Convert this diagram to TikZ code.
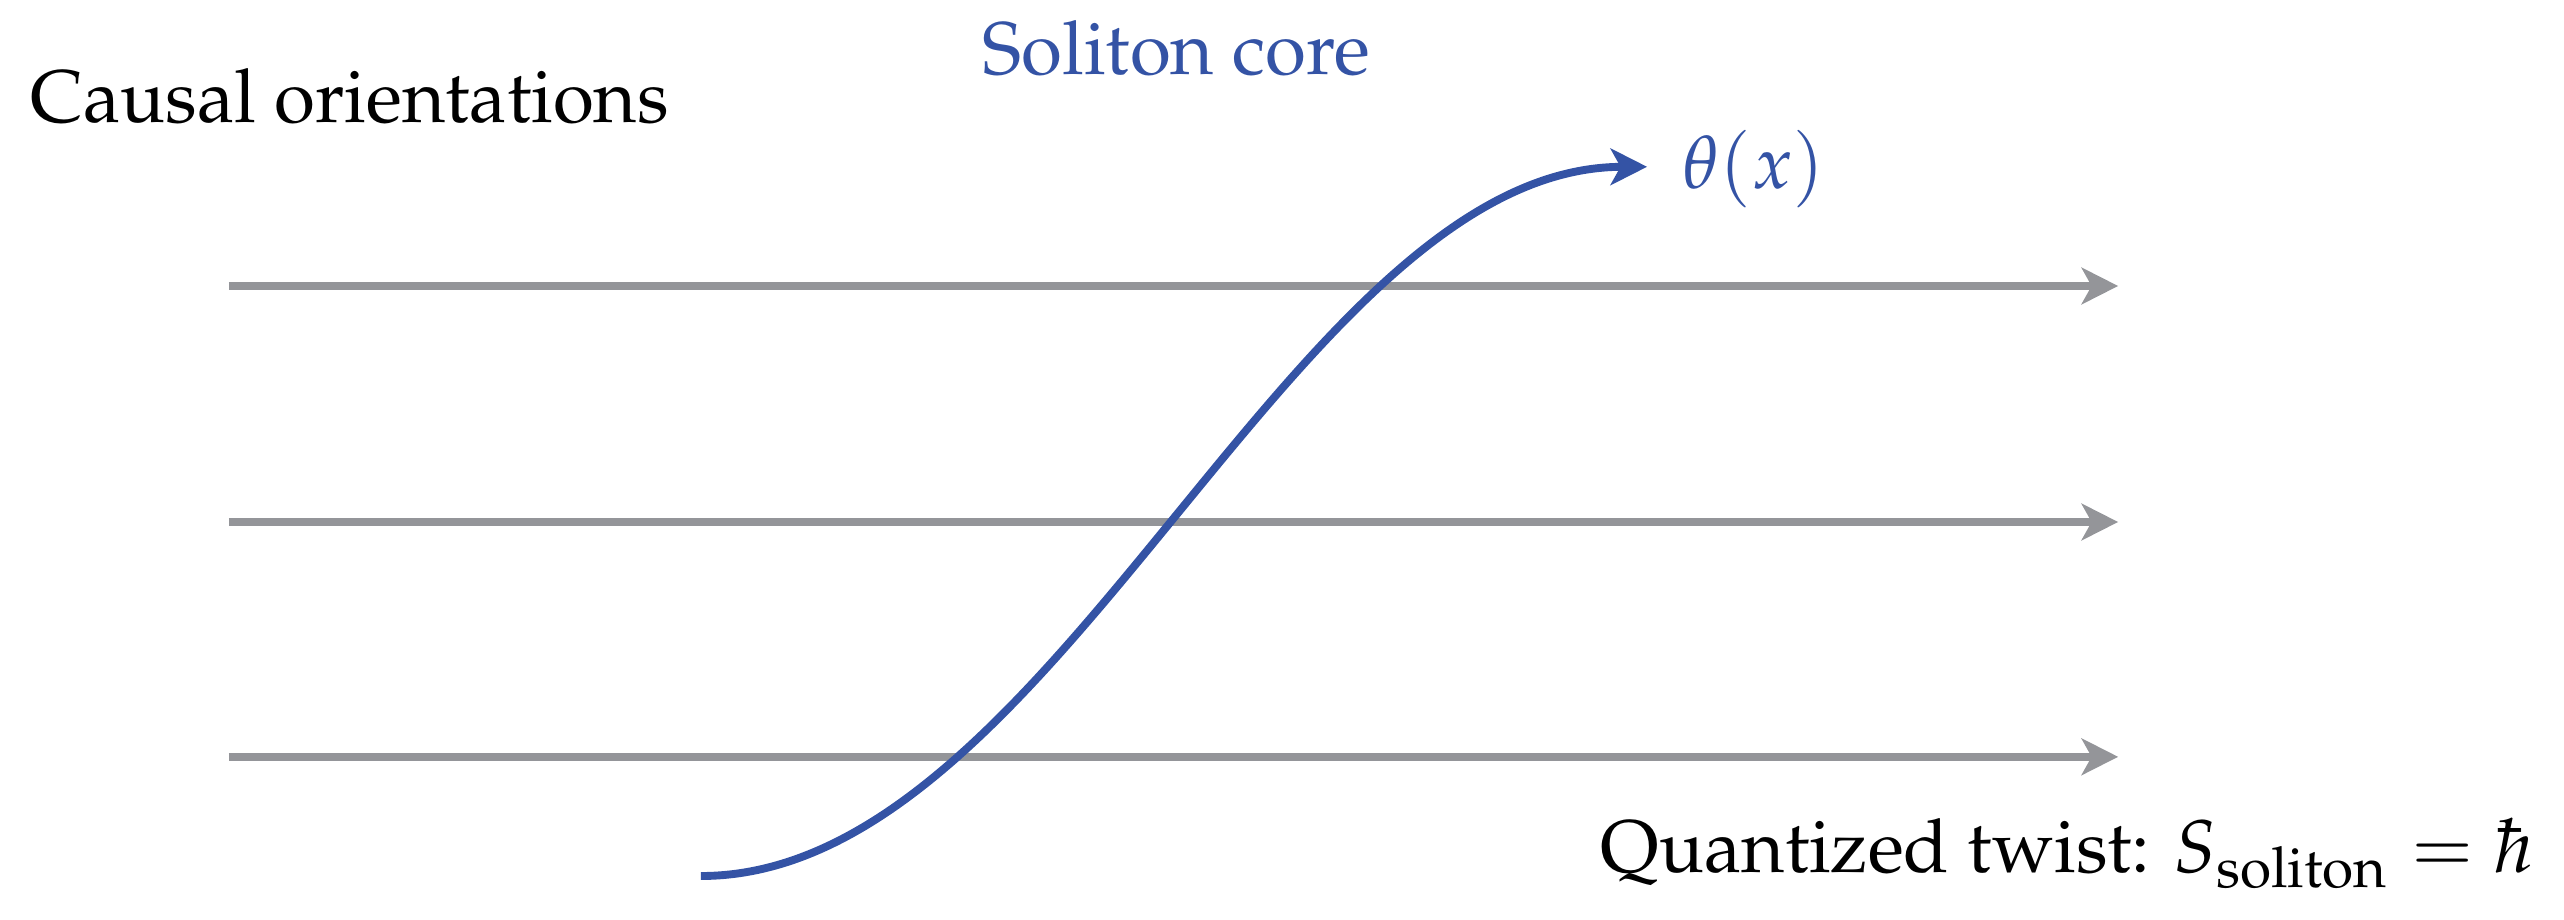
\documentclass[tikz,border=0pt]{standalone}
\usepackage[T1]{fontenc}
\usepackage{mathpazo}
\usetikzlibrary{arrows.meta}
\definecolor{solblue}{RGB}{52,83,165}
\definecolor{axgray}{RGB}{148,149,153}
\tikzset{
  lbl/.style={inner sep=0pt, font=\fontsize{8.98}{11}\selectfont},
  orient/.style={draw=axgray, line width=0.95pt, -{Stealth[length=4.4pt,width=4.4pt,inset=1.2pt]}},
  soliton/.style={draw=solblue, line width=0.95pt, -{Stealth[length=4.4pt,width=4.4pt,inset=1.2pt]}}
}
\begin{document}
\begin{tikzpicture}
\useasboundingbox (0,0) rectangle (10.864,3.898);
% orientation arrows
\coordinate (a1s) at (0.970,2.686); \coordinate (a1e) at (8.975,2.686);
\coordinate (a2s) at (0.970,1.686); \coordinate (a2e) at (8.975,1.686);
\coordinate (a3s) at (0.970,0.691); \coordinate (a3e) at (8.975,0.691);
\draw[orient] (a1s) -- (a1e);
\draw[orient] (a2s) -- (a2e);
\draw[orient] (a3s) -- (a3e);
% soliton curve
\coordinate (cs) at (2.970,0.186);
\coordinate (ce) at (6.979,3.191);
\draw[soliton] (cs) .. controls (4.47,0.186) and (5.48,3.191) .. (ce);
% labels
\node[lbl, text=solblue, anchor=base west] (theta) at (7.123,3.097) {$\theta(x)$};
\node[lbl, text=solblue, anchor=base west] (core) at (4.157,3.581) {Soliton core};
\node[lbl, anchor=base west] (causal) at (0.123,3.377) {Causal orientations};
\node[lbl, anchor=base east] (twist) at (10.742,0.203) {Quantized twist: $S_{\mathrm{soliton}}=\hbar$};
\end{tikzpicture}
\end{document}
